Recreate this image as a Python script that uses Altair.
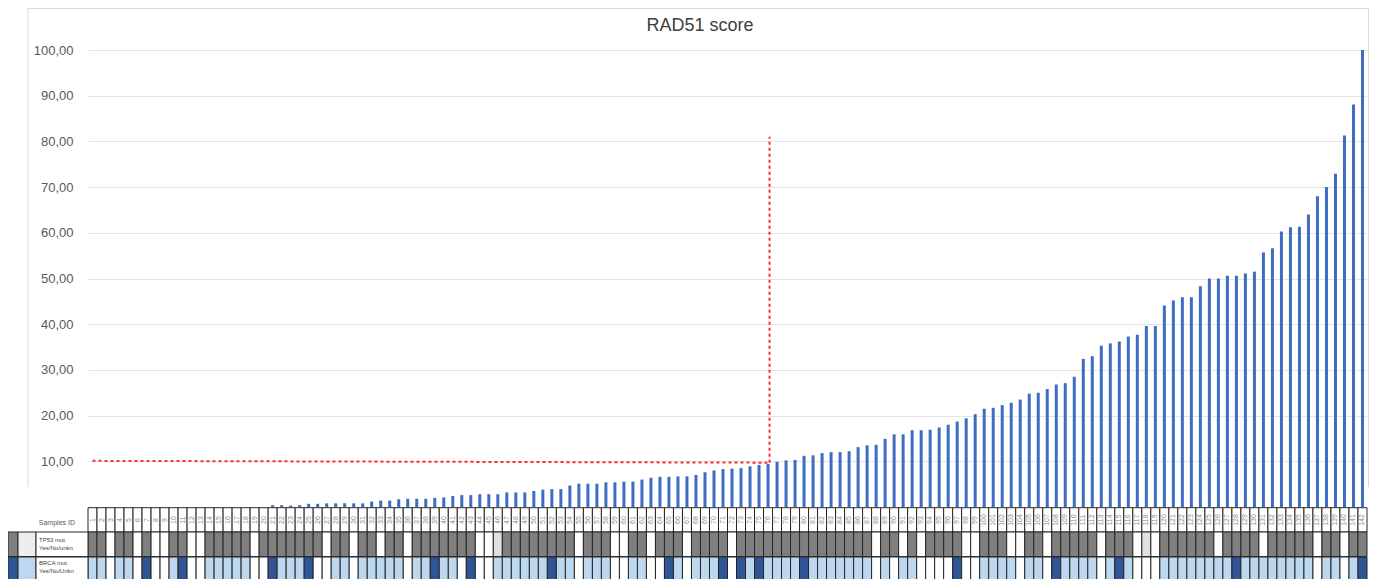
import altair as alt
import pandas as pd

# ---------------- data ----------------
N = 142
sample_ids = [str(i + 1) for i in range(N)]

rad51_score = [
    0, 0, 0, 0, 0, 0, 0, 0, 0, 0, 0, 0, 0, 0, 0, 0, 0, 0, 0, 0,
    0.4, 0.4, 0.3, 0.4, 0.7, 0.7, 0.8, 0.8, 0.8, 0.8, 0.8, 1.2, 1.4, 1.4, 1.7, 1.8,
    1.8, 1.8, 2.0, 2.1, 2.4, 2.6, 2.6, 2.8,
    2.8, 2.8, 3.2, 3.2, 3.2, 3.5, 3.8, 3.9, 3.9, 4.7, 5.1, 5.1, 5.1, 5.4, 5.4, 5.55,
    5.55, 6.0, 6.4, 6.6, 6.6, 6.7, 6.7, 7.0, 7.6, 8.0, 8.3, 8.4, 8.5, 8.9, 9.2, 9.4,
    9.9, 10.2, 10.3, 11.2, 11.3, 11.8, 12.0, 12.0, 12.2, 13.1, 13.5,
    13.6, 14.9, 15.9, 15.9, 16.8, 16.8, 16.9, 17.4, 18.0, 18.7, 19.4, 20.3, 21.5, 21.7,
    22.3, 22.8, 23.5, 24.8, 25.0, 25.8, 26.8, 27.1, 28.5, 32.4, 33.0, 35.3, 35.8, 36.2,
    37.3, 37.7, 39.6, 39.6, 44.1, 45.2,
    45.9, 45.9, 48.3, 50.0, 50.0, 50.6, 50.6, 51.1, 51.5, 55.7, 56.6, 60.3, 61.2, 61.3,
    64.0, 68.0, 70.0, 72.9, 81.3, 88.1, 100.0,
]

# Y = yes, N = no, U = unknown
tp53_status = (
    "Y Y U Y Y U Y U U Y "
    "Y U U Y Y Y Y Y U Y "
    "Y Y Y Y Y Y U Y Y U "
    "Y Y U Y Y U Y Y Y Y "
    "Y Y Y U U N Y Y Y Y "
    "Y Y Y Y U Y Y Y U U "
    "Y Y U Y Y Y U Y Y Y "
    "Y U Y Y Y Y Y Y Y Y "
    "Y Y Y Y Y Y Y U Y Y "
    "U Y U Y Y Y Y U U Y "
    "Y Y U U Y Y U Y Y Y "
    "Y Y U Y Y Y U N U Y "
    "Y Y Y Y Y U Y Y Y Y "
    "U Y Y Y Y Y U Y Y U "
    "Y Y"
).split()

brca_status = (
    "N N U N N U Y U U N "
    "Y U U N N N N N U U "
    "Y N N N Y U U N N U "
    "N N N N N U N N Y N "
    "N U Y U U N N N N N "
    "N Y N N U N N N U U "
    "N N U U Y N U N N N "
    "Y U Y N Y N N N N Y "
    "N N N N N N N U N U "
    "N N U U U U Y U U N "
    "N N N U N N U Y N N "
    "N N U N Y N U U U N "
    "N N N N N N N Y N N "
    "N N N N N N U N N U "
    "N Y"
).split()

threshold_level = [10.1, 9.7]       # horizontal dashed cut-off line (left, right)
threshold_vertical = [9.7, 81.0]    # vertical dashed line (bottom, top)
threshold_sample = 75               # column index of the vertical cut-off

# ---------------- frames ----------------
df = pd.DataFrame({
    "sample": sample_ids,
    "score": rad51_score,
    "tp53": ["TP53 " + s for s in tp53_status],
    "brca": ["BRCA " + s for s in brca_status],
})
h_df = pd.DataFrame({"sample": [sample_ids[0], sample_ids[threshold_sample]],
                     "score": threshold_level})
v_df = pd.DataFrame({"sample": [sample_ids[threshold_sample]] * 2,
                     "score": threshold_vertical})
one = pd.DataFrame({"k": [0]})

FONT = "Liberation Sans"
X = alt.X("sample:N", scale=alt.Scale(domain=sample_ids, paddingInner=0, paddingOuter=0), axis=None)

status_scale = alt.Scale(
    domain=["TP53 Y", "TP53 N", "TP53 U", "BRCA Y", "BRCA N", "BRCA U"],
    range=["#7f7f7f", "#e0e0e0", "#ffffff", "#2f5597", "#bdd7ee", "#ffffff"],
)

bars = alt.Chart(df).mark_bar(size=3, color="#3d6cc0").encode(
    x=X,
    y=alt.Y("score:Q",
            scale=alt.Scale(domain=[0, 100], nice=False),
            axis=alt.Axis(values=[10, 20, 30, 40, 50, 60, 70, 80, 90, 100],
                          labelExpr="replace(format(datum.value, '.2f'), '.', ',')",
                          grid=True, gridColor="#e4e4e4", domain=False, ticks=False,
                          labelPadding=15, labelFontSize=13, labelColor="#595959",
                          labelFont=FONT),
            title=None),
)

red_h = alt.Chart(h_df).mark_line(color="#ff2a2a", strokeDash=[3, 3], strokeWidth=2).encode(
    x=X, y=alt.Y("score:Q"))
red_v = alt.Chart(v_df).mark_line(color="#ff2a2a", strokeDash=[3, 3], strokeWidth=2,
                                  xOffset=1.5).encode(x=X, y=alt.Y("score:Q"))

# ---- table under the bars ----
row1 = alt.Chart(df).mark_rect(fill="white", stroke="#262626", strokeWidth=1).encode(
    x=X, y=alt.value(457.7), y2=alt.value(482))
row1_txt = alt.Chart(df).mark_text(angle=270, fontSize=7, color="#8c8c8c", font=FONT).encode(
    x=X, y=alt.value(470), text="sample:N")
row2 = alt.Chart(df).mark_rect(stroke="#262626", strokeWidth=1).encode(
    x=X, y=alt.value(482), y2=alt.value(506.6),
    color=alt.Color("tp53:N", scale=status_scale, legend=None))
row3 = alt.Chart(df).mark_rect(stroke="#262626", strokeWidth=1).encode(
    x=X, y=alt.value(507), y2=alt.value(531),
    color=alt.Color("brca:N", scale=status_scale, legend=None))


def box(x1, x2, y1, y2, fill):
    return alt.Chart(one).mark_rect(fill=fill, stroke="#262626", strokeWidth=1).encode(
        x=alt.value(x1), x2=alt.value(x2), y=alt.value(y1), y2=alt.value(y2))


def label(txt, x, y, size=6, align="left", color="#404040"):
    return alt.Chart(one).mark_text(text=txt, fontSize=size, align=align, color=color,
                                    font=FONT).encode(x=alt.value(x), y=alt.value(y))


legend_parts = [
    box(-80, -70, 482, 506.6, "#7f7f7f"),
    box(-70, -52, 482, 506.6, "#ededed"),
    box(-52, 0, 482, 506.6, "white"),
    box(-80, -70, 507, 531, "#2f5597"),
    box(-70, -52, 507, 531, "#bdd7ee"),
    box(-52, 0, 507, 531, "white"),
    label("Samples ID", -13, 473, size=7, align="right", color="#595959"),
    label("TP53 mut", -49, 490),
    label("Yes/No/unkn", -49, 498),
    label("BRCA mut", -49, 513),
    label("Yes/No/Unkn", -49, 521),
]

# ---- chart frame and title ----
frame = [
    alt.Chart(one).mark_rule(color="#d9d9d9", strokeWidth=1).encode(
        x=alt.value(-60), x2=alt.value(1280.5), y=alt.value(-41.5)),
    alt.Chart(one).mark_rule(color="#d9d9d9", strokeWidth=1).encode(
        x=alt.value(-60), y=alt.value(-41.5), y2=alt.value(437)),
    alt.Chart(one).mark_rule(color="#d9d9d9", strokeWidth=1).encode(
        x=alt.value(1280.5), y=alt.value(-41.5), y2=alt.value(437)),
]
title = alt.Chart(one).mark_text(text="RAD51 score", fontSize=18, color="#404040",
                                 font=FONT).encode(x=alt.value(612), y=alt.value(-24))

chart = alt.layer(
    *frame, title, bars, red_h, red_v, row1, row1_txt, row2, row3, *legend_parts
).properties(
    width=1279, height=457,
    autosize=alt.AutoSizeParams(type="none"),
    padding={"left": 80, "top": 42, "right": 2, "bottom": 72},
).configure_view(strokeWidth=0)

chart.save("out.html", embed_options={"renderer": "svg", "actions": False})
